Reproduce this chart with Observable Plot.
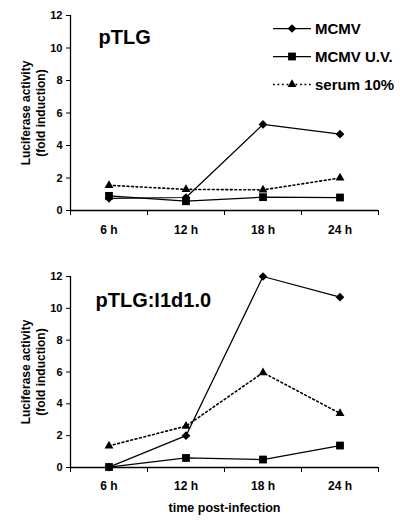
<!DOCTYPE html>
<html>
<head>
<meta charset="utf-8">
<script src="https://cdn.jsdelivr.net/npm/d3@7"></script>
<script src="https://cdn.jsdelivr.net/npm/@observablehq/plot@0.6"></script>
<style>
  html, body { margin: 0; padding: 0; background: #fff; }
  #wrap { position: relative; width: 400px; height: 523px; overflow: hidden; }
  #wrap svg { display: block; }
  #legend { position: absolute; left: 0; top: 0; }
</style>
</head>
<body>
<div id="wrap"></div>
<script>
// ---- data ----
const times = ["6 h", "12 h", "18 h", "24 h"];
const seriesNames = ["MCMV", "MCMV U.V.", "serum 10%"];
const panelTitles = ["pTLG", "pTLG:I1d1.0"];
const yTicks = [0, 2, 4, 6, 8, 10, 12];
const yLabel = "Luciferase activity\n(fold induction)";
const xLabel = "time post-infection";

// pTLG
const pTLG_MCMV   = [0.75, 0.8, 5.3, 4.7];
const pTLG_UV     = [0.9, 0.57, 0.82, 0.8];
const pTLG_serum  = [1.55, 1.3, 1.27, 2.0];
// pTLG:I1d1.0
const pI1_MCMV    = [0.02, 2.0, 12.0, 10.7];
const pI1_UV      = [0.03, 0.6, 0.5, 1.38];
const pI1_serum   = [1.36, 2.6, 5.96, 3.4];

const FONT = "'Liberation Sans', Arial, Helvetica, sans-serif";

function rows(values) {
  return values.map((v, i) => ({time: times[i], i: i + 0.5, v}));
}

const seriesStyle = [
  {symbol: "diamond2", r: 3.9, dash: null, sw: 1.25},
  {symbol: "square", r: 4.4, dash: null, sw: 1.25},
  {symbol: "triangle", r: 3.3, dash: "1.8,2.7", sw: 1.6}
];

function panel({title, series, height, marginTop, marginBottom, titleDx, titleDy, tickPad, showXLabel}) {
  const marks = [
    Plot.ruleY([0], {stroke: "black", strokeWidth: 1.3}),
    Plot.ruleX([0], {stroke: "black", strokeWidth: 1.3}),
    Plot.axisY({ticks: yTicks, tickSize: 4, tickPadding: 4, fontSize: 11, fontWeight: "bold", label: null}),
    Plot.axisX({ticks: [0, 1, 2, 3, 4], tickSize: 5, tickFormat: () => "", label: null}),
    Plot.axisX({ticks: [0.5, 1.5, 2.5, 3.5], tickSize: 0, tickPadding: tickPad, fontSize: 12, fontWeight: "bold",
      tickFormat: d => times[Math.floor(d)], label: null}),
    Plot.text([yLabel], {frameAnchor: "left", dx: -37.5, rotate: -90, textAnchor: "middle", lineAnchor: "middle",
      lineHeight: 1.25, fontSize: 12, fontWeight: "bold", fill: "black"}),
    Plot.text([title], {frameAnchor: "top-left", textAnchor: "start", lineAnchor: "top", dx: titleDx, dy: titleDy,
      fontSize: 20, fontWeight: "bold", fill: "black"})
  ];
  if (showXLabel) {
    marks.push(Plot.text([xLabel], {frameAnchor: "bottom", lineAnchor: "top", dy: 36, fontSize: 12.5, fontWeight: "bold", fill: "black"}));
  }
  series.forEach((vals, k) => {
    const s = seriesStyle[k];
    marks.push(Plot.line(rows(vals), {x: "i", y: "v", stroke: "black", strokeWidth: s.sw, strokeDasharray: s.dash}));
  });
  series.forEach((vals, k) => {
    const s = seriesStyle[k];
    marks.push(Plot.dot(rows(vals), {x: "i", y: "v", symbol: () => s.symbol, r: s.r, fill: "black", stroke: "none"}));
  });
  return Plot.plot({
    width: 400,
    height,
    marginLeft: 70,
    marginRight: 22,
    marginTop,
    marginBottom,
    style: {fontFamily: FONT, color: "black", background: "white"},
    x: {domain: [0, 4], axis: null},
    y: {domain: [0, 12], axis: null},
    marks
  });
}

const wrap = document.getElementById("wrap");
wrap.appendChild(panel({
  title: panelTitles[0],
  series: [pTLG_MCMV, pTLG_UV, pTLG_serum],
  height: 255, marginTop: 15, marginBottom: 45,
  titleDx: 28, titleDy: 14, tickPad: 15, showXLabel: false
}));
wrap.appendChild(panel({
  title: panelTitles[1],
  series: [pI1_MCMV, pI1_UV, pI1_serum],
  height: 268, marginTop: 21, marginBottom: 56,
  titleDx: 25, titleDy: 16, tickPad: 14, showXLabel: true
}));

// ---- legend (overlay on top panel) ----
const leg = d3.select(wrap).append("svg")
  .attr("id", "legend").attr("width", 400).attr("height", 100)
  .style("font-family", FONT);
const symMap = {diamond2: d3.symbolDiamond2, square: d3.symbolSquare, triangle: d3.symbolTriangle};
const legY = [28.5, 56.5, 84.5];
seriesNames.forEach((name, k) => {
  const s = seriesStyle[k];
  const g = leg.append("g").attr("transform", `translate(0,${legY[k]})`);
  g.append("line").attr("x1", 273).attr("x2", 311).attr("y1", 0).attr("y2", 0)
    .attr("stroke", "black").attr("stroke-width", s.sw)
    .attr("stroke-dasharray", s.dash);
  g.append("path").attr("transform", "translate(292,0)")
    .attr("d", d3.symbol(symMap[s.symbol], Math.PI * s.r * s.r)())
    .attr("fill", "black");
  g.append("text").attr("x", 315).attr("y", 0).attr("dy", "0.35em")
    .attr("font-size", 15).attr("font-weight", "bold").attr("fill", "black")
    .text(name);
});
</script>
</body>
</html>
